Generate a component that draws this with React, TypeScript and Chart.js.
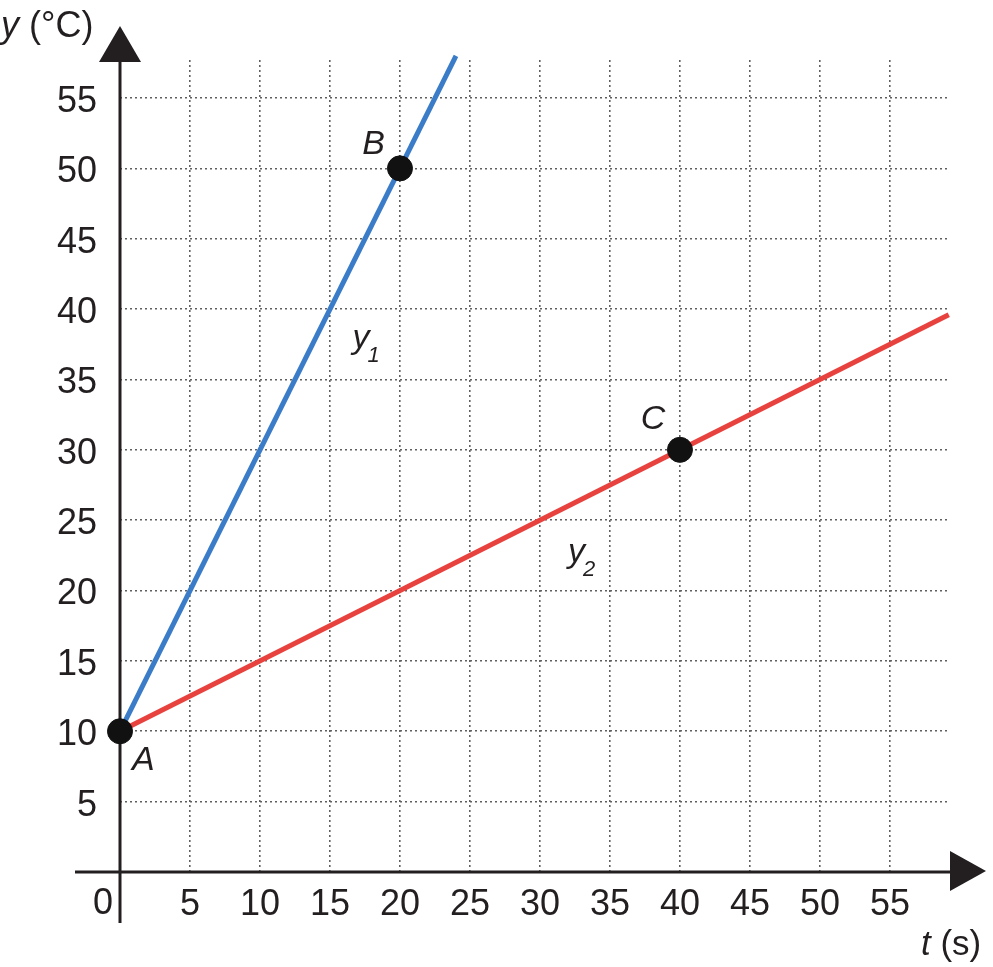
import { useEffect, useRef } from 'react';
import { Chart, registerables } from 'chart.js';

Chart.register(...registerables);

// lines (t in s, y in °C)
const blueTimes = [0, 24];
const blueTemps = [10, 58];
const redTimes = [0, 59.2];
const redTemps = [10, 39.6];

// marked points A, B, C
const pointNames = ['A', 'B', 'C'];
const pointTimes = [0, 20, 40];
const pointTemps = [10, 50, 30];

const tickStep = 5;

const FONT = '"Liberation Sans", Arial, sans-serif';
const INK = '#231f20';

// text annotations placed in data units
const labels = [
    { text: 'A', sub: '', x: 0.86, y: 7.25 },
    { text: 'B', sub: '', x: 17.3, y: 51.0 },
    { text: 'C', sub: '', x: 37.2, y: 31.5 },
    { text: 'y', sub: '1', x: 16.6, y: 37.2 },
    { text: 'y', sub: '2', x: 32.0, y: 22.0 },
];

const axesPlugin = {
    id: 'axesPlugin',
    beforeDatasetsDraw(chart: any) {
        const { ctx, scales } = chart;
        const x0 = scales.x.getPixelForValue(0);
        const y0 = scales.y.getPixelForValue(0);
        const right = chart.chartArea.right;
        const top = chart.chartArea.top;
        ctx.save();
        ctx.strokeStyle = INK;
        ctx.fillStyle = INK;
        ctx.lineWidth = 3;
        ctx.beginPath();
        ctx.moveTo(x0, y0 + 51);
        ctx.lineTo(x0, top + 2);
        ctx.moveTo(x0 - 45, y0);
        ctx.lineTo(right, y0);
        ctx.stroke();
        // arrow heads
        ctx.beginPath();
        ctx.moveTo(x0, top - 34);
        ctx.lineTo(x0 - 21, top + 2);
        ctx.lineTo(x0 + 21, top + 2);
        ctx.closePath();
        ctx.fill();
        ctx.beginPath();
        ctx.moveTo(right + 36, y0 - 1);
        ctx.lineTo(right, y0 - 21);
        ctx.lineTo(right, y0 + 19);
        ctx.closePath();
        ctx.fill();
        ctx.restore();
    },
    afterDraw(chart: any) {
        const { ctx, scales } = chart;
        const x0 = scales.x.getPixelForValue(0);
        const y0 = scales.y.getPixelForValue(0);
        ctx.save();
        ctx.fillStyle = INK;
        ctx.textAlign = 'left';
        ctx.textBaseline = 'alphabetic';

        // "0" at the origin, left of the y axis
        ctx.font = `36px ${FONT}`;
        ctx.textAlign = 'center';
        ctx.fillText('0', x0 - 17, y0 + 42);
        ctx.textAlign = 'left';

        // axis titles
        ctx.font = `italic 36px ${FONT}`;
        ctx.fillText('y', 1, 37);
        let w = ctx.measureText('y ').width;
        ctx.font = `36px ${FONT}`;
        ctx.fillText('(°C)', 1 + w, 37);

        ctx.font = `italic 35px ${FONT}`;
        ctx.fillText('t', 921, 955);
        w = ctx.measureText('t ').width;
        ctx.font = `35px ${FONT}`;
        ctx.fillText('(s)', 921 + w, 955);

        // point and line labels
        labels.forEach(l => {
            const px = scales.x.getPixelForValue(l.x);
            const py = scales.y.getPixelForValue(l.y);
            ctx.font = `italic 34px ${FONT}`;
            ctx.fillText(l.text, px, py);
            if (l.sub) {
                const tw = ctx.measureText(l.text).width;
                ctx.font = `italic 22px ${FONT}`;
                ctx.fillText(l.sub, px + tw - 2, py + 14);
            }
        });
        ctx.restore();
    },
};

const App = () => {
    const chartRef = useRef<HTMLCanvasElement | null>(null);

    useEffect(() => {
        if (!chartRef.current) return;
        const ctx = chartRef.current.getContext('2d');
        if (!ctx) return;

        const myChart = new Chart(ctx, {
            type: 'scatter',
            data: {
                datasets: [
                    {
                        label: 'points',
                        data: pointTimes.map((t, i) => ({ x: t, y: pointTemps[i], name: pointNames[i] })),
                        backgroundColor: '#111111',
                        borderColor: '#111111',
                        pointRadius: 12.5,
                        showLine: false,
                        order: 0,
                        clip: false,
                    },
                    {
                        label: 'y1',
                        data: blueTimes.map((t, i) => ({ x: t, y: blueTemps[i] })),
                        borderColor: '#3a7cc8',
                        borderWidth: 5,
                        pointRadius: 0,
                        showLine: true,
                        order: 1,
                        clip: false,
                    },
                    {
                        label: 'y2',
                        data: redTimes.map((t, i) => ({ x: t, y: redTemps[i] })),
                        borderColor: '#e8423f',
                        borderWidth: 5,
                        pointRadius: 0,
                        showLine: true,
                        order: 1,
                        clip: false,
                    },
                ],
            },
            options: {
                animation: false,
                responsive: true,
                maintainAspectRatio: false,
                layout: { padding: { top: 60, right: 43, left: 0, bottom: 0 } },
                plugins: {
                    legend: { display: false },
                    tooltip: { enabled: false },
                },
                scales: {
                    x: {
                        type: 'linear',
                        min: 0,
                        max: 59.29,
                        position: 'bottom',
                        afterFit: (s: any) => { s.height = 95; },
                        border: { display: false, dash: [2, 3] },
                        grid: { color: '#5f5f5f', lineWidth: 1.6, drawTicks: false },
                        ticks: {
                            stepSize: tickStep,
                            includeBounds: false,
                            autoSkip: false,
                            maxRotation: 0,
                            padding: 11,
                            color: INK,
                            font: { size: 36, family: FONT },
                            callback: (v: any) => (v === 0 ? '' : v),
                        },
                    },
                    y: {
                        type: 'linear',
                        min: 0,
                        max: 57.7,
                        afterFit: (s: any) => { s.width = 120; },
                        border: { display: false, dash: [2, 3] },
                        grid: { color: '#5f5f5f', lineWidth: 1.6, drawTicks: false },
                        ticks: {
                            stepSize: tickStep,
                            includeBounds: false,
                            autoSkip: false,
                            padding: 23,
                            labelOffset: 4,
                            color: INK,
                            font: { size: 36, family: FONT },
                            callback: (v: any) => (v === 0 ? '' : v),
                        },
                    },
                },
            },
            plugins: [axesPlugin],
        });

        return () => {
            myChart.destroy();
        };
    }, []);

    return (
        <div style={{ position: 'absolute', left: 0, top: 0, width: 993, height: 967, background: '#fff' }}>
            <canvas ref={chartRef}></canvas>
        </div>
    );
};

export default App;
